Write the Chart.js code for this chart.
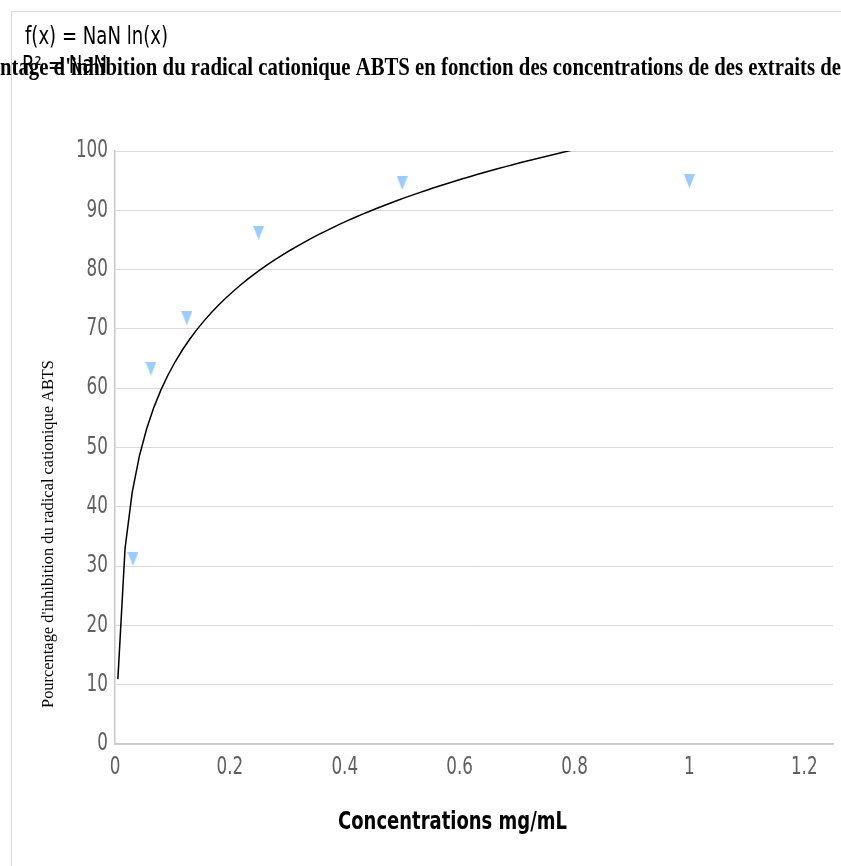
<!DOCTYPE html>
<html>
<head>
<meta charset="utf-8">
<script src="https://cdn.jsdelivr.net/npm/chart.js@4.4.1/dist/chart.umd.min.js"></script>
<style>
  html, body { margin: 0; padding: 0; background: #fff; }
  #wrap { width: 841px; height: 866px; }
</style>
</head>
<body>
<div id="wrap"><canvas id="abtsChart"></canvas></div>
<script>
// ABTS radical scavenging vs extract concentration
const concentrations = [0.03125, 0.0625, 0.125, 0.25, 0.5, 1];
const inhibition = [31.2, 63.3, 71.8, 86.2, 94.6, 94.9];
const xTicks = [0, 0.2, 0.4, 0.6, 0.8, 1, 1.2];
const yTicks = [0, 10, 20, 30, 40, 50, 60, 70, 80, 90, 100];

const titleText = "Pourcentage d'inhibition du radical cationique ABTS en fonction des concentrations de des extraits de";
const yTitle = "Pourcentage d'inhibition du radical cationique ABTS";
const xTitle = 'Concentrations mg/mL';
const eqText = 'f(x) = NaN ln(x)';
const r2Text = 'R² = NaN';

const SANS = '"DejaVu Sans", sans-serif';
const SERIF = '"Liberation Serif", serif';

// logarithmic trend line (least squares on ln x)
function logFit(xs, ys) {
  const lx = xs.map(Math.log);
  const n = xs.length;
  const mx = lx.reduce((a, b) => a + b, 0) / n;
  const my = ys.reduce((a, b) => a + b, 0) / n;
  let sxy = 0, sxx = 0;
  for (let i = 0; i < n; i++) {
    sxy += (lx[i] - mx) * (ys[i] - my);
    sxx += (lx[i] - mx) * (lx[i] - mx);
  }
  const a = sxy / sxx;
  return { a: a, b: my - a * mx };
}
const fit = logFit(concentrations, inhibition);
const trend = [];
for (let x = 0.005; x <= 1.25; x += 0.0125) {
  trend.push({ x: x, y: fit.a * Math.log(x) + fit.b });
}

// tall downward triangle marker
function makeMarker() {
  const c = document.createElement('canvas');
  c.width = 11; c.height = 14;
  const g = c.getContext('2d');
  g.fillStyle = '#99ccff';
  g.beginPath();
  g.moveTo(0, 0);
  g.lineTo(11, 0);
  g.lineTo(5.5, 14);
  g.closePath();
  g.fill();
  return c;
}

// squeezed text: sx is the horizontal scale, or width gives a target width
function condText(ctx, text, x, y, font, opts) {
  ctx.save();
  ctx.font = font;
  const w = ctx.measureText(text).width;
  const sx = opts.width ? opts.width / w : opts.sx;
  const align = opts.align || 'left';
  let dx = 0;
  if (align === 'center') dx = -w * sx / 2;
  if (align === 'right') dx = -w * sx;
  ctx.translate(x + dx, y);
  ctx.scale(sx, 1);
  ctx.textAlign = 'left';
  ctx.textBaseline = 'middle';
  ctx.fillStyle = opts.color || '#000';
  ctx.fillText(text, 0, 0);
  ctx.restore();
}

const decorations = {
  id: 'decorations',
  beforeDraw(chart) {
    const ctx = chart.ctx;
    ctx.save();
    ctx.fillStyle = '#fff';
    ctx.fillRect(0, 0, chart.width, chart.height);
    ctx.strokeStyle = '#d9d9d9';
    ctx.lineWidth = 1;
    ctx.strokeRect(11.5, 11.5, 1000, 1000);
    ctx.restore();
  },
  afterDraw(chart) {
    const ctx = chart.ctx;
    const xs = chart.scales.x, ys = chart.scales.y;

    // tick labels placed from the scales
    xs.ticks.forEach(t => {
      condText(ctx, String(t.value), xs.getPixelForValue(t.value), 768,
        '24px ' + SANS, { sx: 0.7, align: 'center', color: '#606060' });
    });
    ys.ticks.forEach(t => {
      condText(ctx, String(t.value), 108, ys.getPixelForValue(t.value),
        '24px ' + SANS, { sx: 0.7, align: 'right', color: '#606060' });
    });

    // axis titles
    condText(ctx, xTitle, 452.5, 822, 'bold 25px ' + SANS, { width: 229, align: 'center' });
    ctx.save();
    ctx.translate(49, 534);
    ctx.rotate(-Math.PI / 2);
    condText(ctx, yTitle, 0, 0, '16px ' + SERIF, { width: 348, align: 'center' });
    ctx.restore();

    // trend line equation
    condText(ctx, eqText, 25, 38, '24px ' + SANS, { width: 143 });
    condText(ctx, r2Text, 22, 67, '24px ' + SANS, { width: 85 });

    // long title overflowing both sides
    ctx.save();
    ctx.font = 'bold 26px ' + SERIF;
    const lead = ctx.measureText('Pource').width;
    const rest = ctx.measureText(titleText.slice(6)).width;
    const s = 841 / rest;
    ctx.translate(-lead * s, 68);
    ctx.scale(s, 1);
    ctx.fillStyle = '#000';
    ctx.textBaseline = 'middle';
    ctx.fillText(titleText, 0, 0);
    ctx.restore();
  }
};

new Chart(document.getElementById('abtsChart'), {
  type: 'scatter',
  data: {
    datasets: [
      {
        label: 'Tendance',
        type: 'line',
        data: trend,
        borderColor: '#000',
        borderWidth: 1.5,
        pointRadius: 0,
        fill: false,
        tension: 0
      },
      {
        label: 'Inhibition',
        data: concentrations.map((x, i) => ({ x: x, y: inhibition[i] })),
        pointStyle: makeMarker(),
        pointRadius: 6,
        backgroundColor: '#99ccff'
      }
    ]
  },
  options: {
    responsive: true,
    maintainAspectRatio: false,
    animation: false,
    layout: { padding: { left: 0, right: 8, top: 151, bottom: 0 } },
    plugins: { legend: { display: false }, tooltip: { enabled: false } },
    scales: {
      x: {
        type: 'linear',
        min: 0,
        max: 1.25,
        afterFit(scale) { scale.height = 122; },
        afterBuildTicks(scale) { scale.ticks = xTicks.map(v => ({ value: v })); },
        grid: { display: false, drawTicks: false },
        border: { color: '#c8c8c8', width: 1.5 },
        ticks: { display: false }
      },
      y: {
        min: 0,
        max: 100,
        afterFit(scale) { scale.width = 115; },
        afterBuildTicks(scale) { scale.ticks = yTicks.map(v => ({ value: v })); },
        grid: { color: '#d9d9d9', drawTicks: false },
        border: { color: '#c8c8c8', width: 1.5 },
        ticks: { display: false }
      }
    }
  },
  plugins: [decorations]
});
</script>
</body>
</html>
